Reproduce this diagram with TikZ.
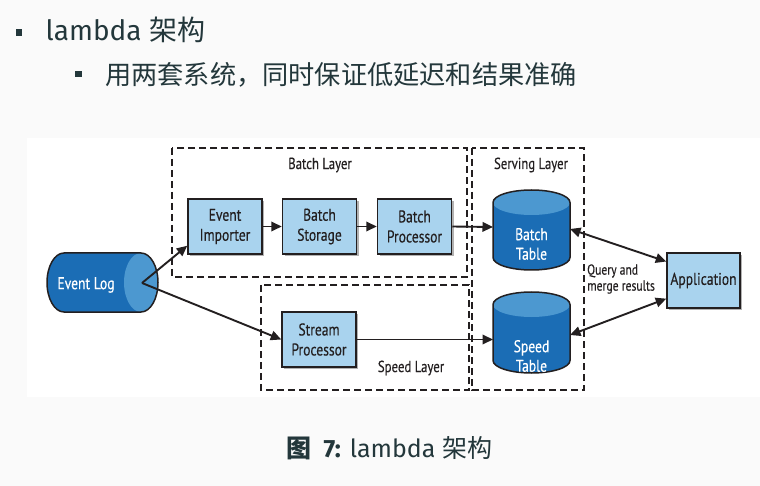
\documentclass[tikz,border=0pt]{standalone}
\usepackage{fontspec}
\newfontfamily\fira{Fira Sans}
\newfontfamily\cjk{Noto Sans CJK SC}
\newfontfamily\cond[FakeStretch=0.8,FakeBold=0.3]{PT Sans}
\usetikzlibrary{arrows.meta,shadows}
\definecolor{mteal}{HTML}{23373B}
\definecolor{boxblue}{HTML}{A9D3EE}
\definecolor{cyldark}{HTML}{1B6DB5}
\definecolor{cyllight}{HTML}{4C98D0}
\definecolor{pagebg}{HTML}{FAFAFA}
\definecolor{ink}{HTML}{231F20}
\begin{document}
\begin{tikzpicture}[x=1pt,y=-1pt,
  procbox/.style={draw=ink, line width=1.5pt, fill=boxblue, minimum width=74pt, minimum height=55pt, inner sep=0pt, align=center, font=\cond\fontsize{17}{20}\selectfont, text=ink, drop shadow={shadow xshift=2pt, shadow yshift=-2pt, fill=black, opacity=0.3}},
  cyltext/.style={inner sep=0pt, align=center, text=white, font=\cond\fontsize{17}{19.5}\selectfont},
  layer/.style={draw=ink, line width=1.6pt, dash pattern=on 7pt off 4pt},
  layerlabel/.style={inner sep=0pt, text=ink, font=\cond\fontsize{16}{18}\selectfont},
  flow/.style={draw=ink, line width=1.9pt, -{Triangle[length=10.5pt,width=9.5pt]}},
  flowboth/.style={draw=ink, line width=1.9pt, {Triangle[length=10.5pt,width=9.5pt]}-{Triangle[length=10.5pt,width=9.5pt]}},
  cylout/.style={draw=ink, line width=1.5pt},
  bullet/.style={fill=mteal},
  toptext/.style={anchor=base west, inner sep=0pt, text=mteal},
]
% page and figure backgrounds
\fill[pagebg] (0,0) rectangle (760,486);
\fill[white] (27,138) rectangle (760,397);

% bullets and heading text
\fill[bullet] (15.5,29.5) rectangle (22,36.5);
\node[toptext, font=\fira\fontsize{28}{32}\selectfont] (t1) at (45.5,41) {lambda {\cjk 架构}};
\fill[bullet] (75,71.5) rectangle (81.5,77.5);
\node[toptext, font=\fira\fontsize{26.2}{30}\selectfont] (t2) at (105,84.5) {\cjk 用两套系统，同时保证低延迟和结果准确};

% layers
\draw[layer] (172,148) rectangle (467,277);
\draw[layer] (261,285) rectangle (469,390);
\draw[layer] (472,148) rectangle (584,390);
\node[layerlabel] (lbatch) at (320,165) {Batch Layer};
\node[layerlabel] (lspeed) at (411,368) {Speed Layer};
\node[layerlabel] (lserve) at (531,165) {Serving Layer};

% Event Log cylinder (horizontal)
\fill[cyldark] (64,253) -- (141,253) arc[start angle=90,end angle=-90,x radius=17pt,y radius=29.5pt] -- (64,312) arc[start angle=270,end angle=90,x radius=17pt,y radius=29.5pt] -- cycle;
\fill[cyllight] (141,282.5) ellipse[x radius=17pt,y radius=29.5pt];
\draw[cylout] (64,253) -- (141,253) arc[start angle=90,end angle=-90,x radius=17pt,y radius=29.5pt] -- (64,312) arc[start angle=270,end angle=90,x radius=17pt,y radius=29.5pt] -- cycle;
\node[cyltext] (elog) at (86,285) {Event Log};
\coordinate (elogc) at (142,283);

% Batch Table cylinder
\fill[cyldark] (493,202.5) -- (493,257.5) arc[start angle=180,end angle=360,x radius=38.5pt,y radius=12.5pt] -- (570,202.5) arc[start angle=0,end angle=180,x radius=38.5pt,y radius=12.5pt] -- cycle;
\fill[cyllight] (531.5,202.5) ellipse[x radius=38.5pt,y radius=12.5pt];
\draw[cylout] (493,202.5) -- (493,257.5) arc[start angle=180,end angle=360,x radius=38.5pt,y radius=12.5pt] -- (570,202.5) arc[start angle=0,end angle=180,x radius=38.5pt,y radius=12.5pt] -- cycle;
\node[cyltext] (btab) at (531.5,244) {Batch\\Table};
\coordinate (btabw) at (493,227);
\coordinate (btabe) at (570,229);

% Speed Table cylinder
\fill[cyldark] (493,304.5) -- (493,360.5) arc[start angle=180,end angle=360,x radius=38.5pt,y radius=12.5pt] -- (570,304.5) arc[start angle=0,end angle=180,x radius=38.5pt,y radius=12.5pt] -- cycle;
\fill[cyllight] (531.5,304.5) ellipse[x radius=38.5pt,y radius=12.5pt];
\draw[cylout] (493,304.5) -- (493,360.5) arc[start angle=180,end angle=360,x radius=38.5pt,y radius=12.5pt] -- (570,304.5) arc[start angle=0,end angle=180,x radius=38.5pt,y radius=12.5pt] -- cycle;
\node[cyltext] (stab) at (531.5,356) {Speed\\Table};
\coordinate (stabw) at (493,339.5);
\coordinate (stabe) at (570,335);

% process boxes
\node[procbox] (ei) at (225,226.5) {Event\\Importer};
\node[procbox] (bs) at (319.5,226.5) {Batch\\Storage};
\node[procbox] (bp) at (414.5,226.5) {Batch\\Processor};
\node[procbox] (sp) at (319,339.5) {Stream\\Processor};
\node[procbox, minimum width=73pt] (app) at (703.5,280.5) {Application};

\node[anchor=west, inner sep=0pt, align=left, text=ink, font=\cond\fontsize{14.5}{16}\selectfont] (qm) at (587,279) {Query and\\merge results};

% connectors
\draw[flow] (elogc) -- (ei.207);
\draw[flow] (elogc) -- (sp.west);
\draw[flow] (ei.east) -- (bs.west);
\draw[flow] (bs.east) -- (bp.west);
\draw[flow] (bp.east) -- (btabw);
\draw[flow] (sp.east) -- (stabw);
\draw[flowboth] (btabe) -- (app.153);
\draw[flowboth] (stabe) -- (app.206);

% caption
\node[anchor=base west, inner sep=0pt, text=mteal, font=\fira\fontsize{25}{29}\selectfont] (cap) at (286.5,457) {{\cjk\bfseries 图}\hspace{12pt}\textbf{7:}\hspace{9pt}lambda\hspace{7pt}{\cjk 架构}};
\end{tikzpicture}
\end{document}
